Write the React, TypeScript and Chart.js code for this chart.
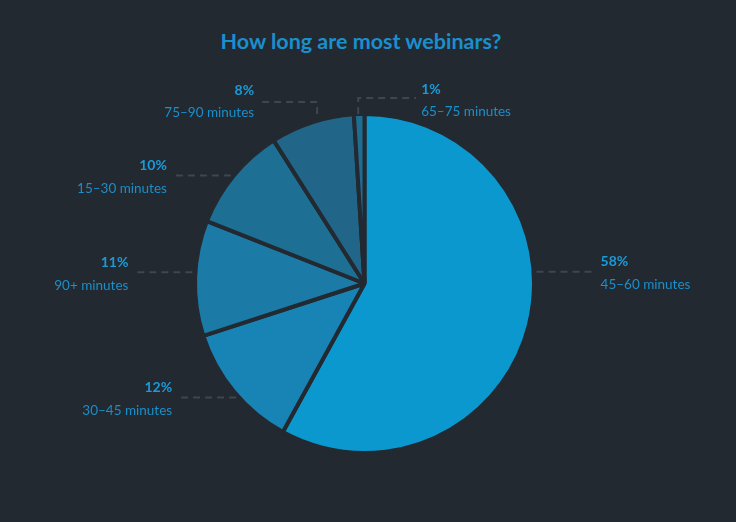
import { useEffect, useRef } from 'react';
import { Chart, registerables } from 'chart.js';
import type { Plugin } from 'chart.js';

Chart.register(...registerables);

const categories = ['45–60 minutes', '30–45 minutes', '90+ minutes', '15–30 minutes', '75–90 minutes', '65–75 minutes'];
const shares = [58, 12, 11, 10, 8, 1];
const sliceColors = ['#0b98cf', '#1884b5', '#1b7aa6', '#1d6f94', '#216688', '#1e6e93'];

const BG = '#232930';
const LINE = '#3d4651';
const TEXT = '#1a8fca';
const PCT = '#1b9ad8';
const FONT = 'Lato, "Open Sans", sans-serif';

// small tweaks so labels sit where the original layout put them
const labelNudge: Record<number, { dy?: number; elbow?: number; side?: number; vx?: number; tdy?: number }> = {
  0: { dy: -54 },
  1: { dy: 6 },
  2: { dy: -6 },
  4: { elbow: 12, side: -1, vx: 5, tdy: -2 },
  5: { elbow: 16, side: 1, vx: -1, tdy: 1 },
};

const outerLabels: Plugin<'pie'> = {
  id: 'outerLabels',
  afterDatasetsDraw(chart) {
    const { ctx } = chart;
    const meta = chart.getDatasetMeta(0);
    ctx.save();
    meta.data.forEach((el, i) => {
      const arc = el as any;
      const { x: cx, y: cy, outerRadius: r, startAngle, endAngle } = arc.getProps(['x', 'y', 'outerRadius', 'startAngle', 'endAngle'], true);
      const mid = (startAngle + endAngle) / 2;
      const nudge = labelNudge[i] ?? {};
      let ax = cx + Math.cos(mid) * r;
      let ay = cy + Math.sin(mid) * r;
      const side = nudge.side ?? (Math.cos(mid) >= 0 ? 1 : -1);
      ctx.strokeStyle = LINE;
      ctx.lineWidth = 2;
      ctx.setLineDash([7, 5]);
      ctx.beginPath();
      let tx: number;
      let ty: number;
      if (nudge.elbow) {
        const top = cy - r;
        const ey = top - nudge.elbow;
        const vx = ax + (nudge.vx ?? 0);
        ctx.moveTo(vx, top);
        ctx.lineTo(vx, ey);
        ctx.lineTo(vx + side * 58, ey);
        tx = vx + side * 63;
        ty = ey + (nudge.tdy ?? 0);
      } else {
        ay += nudge.dy ?? 0;
        const dyc = ay - cy;
        ax = cx + side * Math.sqrt(Math.max(r * r - dyc * dyc, 0));
        ctx.moveTo(ax + side * 3, ay);
        ctx.lineTo(ax + side * 61, ay);
        tx = ax + side * 67;
        ty = ay;
      }
      ctx.stroke();
      ctx.setLineDash([]);
      ctx.textAlign = side > 0 ? 'left' : 'right';
      ctx.textBaseline = 'middle';
      ctx.fillStyle = PCT;
      ctx.font = `bold 14px ${FONT}`;
      ctx.fillText(`${shares[i]}%`, tx, ty - 10);
      ctx.fillStyle = TEXT;
      ctx.font = `13.5px ${FONT}`;
      ctx.fillText(categories[i], tx, ty + 13);
    });
    ctx.restore();
  },
};

export default function App() {
  const canvasRef = useRef<HTMLCanvasElement | null>(null);

  useEffect(() => {
    if (!canvasRef.current) return;
    const chart = new Chart(canvasRef.current, {
      type: 'pie',
      data: {
        labels: categories,
        datasets: [
          {
            data: shares,
            backgroundColor: sliceColors,
            borderColor: BG,
            borderWidth: 4,
          },
        ],
      },
      options: {
        animation: false,
        responsive: false,
        layout: { padding: { top: 112, bottom: 67, left: 150, right: 157 } },
        plugins: {
          legend: { display: false },
          tooltip: { enabled: false },
          title: { display: false },
        },
      },
      plugins: [outerLabels],
    });
    return () => chart.destroy();
  }, []);

  return (
    <div style={{ position: 'fixed', inset: 0, background: BG }}>
      <div
        style={{
          position: 'absolute',
          top: 28,
          left: 0,
          width: 722,
          textAlign: 'center',
          fontFamily: FONT,
          fontWeight: 700,
          fontSize: 21.5,
          color: '#1a8fcf',
        }}
      >
        How long are most webinars?
      </div>
      <canvas ref={canvasRef} width={736} height={522} style={{ position: 'absolute', top: 0, left: 0 }} />
    </div>
  );
}
